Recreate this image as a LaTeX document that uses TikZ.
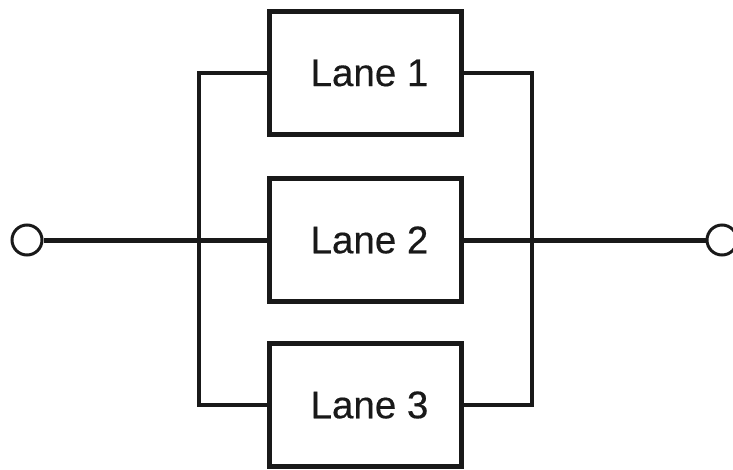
\documentclass[tikz,border=0pt]{standalone}
\usepackage{fontspec}
\setmainfont[FakeBold=0.4]{Liberation Sans}
\begin{document}
\begin{tikzpicture}[x=1pt,y=-1pt,
  lanebox/.style={draw=black!90, line width=5pt, minimum width=192pt, minimum height=123pt, inner sep=0pt,
    font=\fontsize{38.5}{40}\selectfont, text=black!90},
  wire/.style={draw=black!90, line width=4.5pt},
  term/.style={circle, draw=black!90, line width=3pt, minimum size=30pt, inner sep=0pt, fill=white}]
\useasboundingbox (0,0) rectangle (733,469);
\node[lanebox] (l1) at (365,73) {\hspace{9pt}\raisebox{-6pt}{Lane 1}};
\node[lanebox] (l2) at (365,240) {\hspace{9pt}\raisebox{-2pt}{Lane 2}};
\node[lanebox] (l3) at (365,405) {\hspace{9pt}Lane 3};
\node[term] (in) at (27,240) {};
\node[term] (out) at (722,240) {};
\coordinate (lt) at (199,73);
\coordinate (lb) at (199,405);
\coordinate (rt) at (532,73);
\coordinate (rb) at (532,405);
\draw[wire] (l1.west) -- (lt) -- (lb) -- (l3.west);
\draw[wire] (l1.east) -- (rt) -- (rb) -- (l3.east);
\draw[wire, line width=5pt] (in) -- (l2.west);
\draw[wire, line width=5pt] (l2.east) -- (out);
\end{tikzpicture}
\end{document}
